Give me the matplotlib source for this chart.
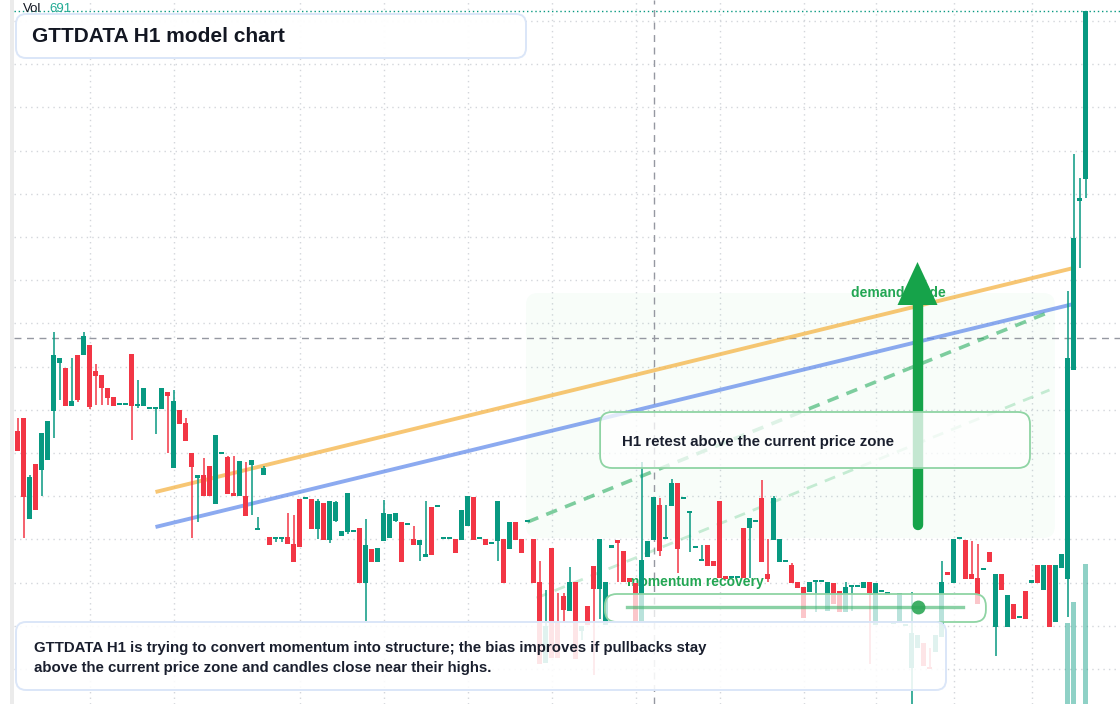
import matplotlib
matplotlib.use("Agg")
import matplotlib.pyplot as plt
from matplotlib.patches import FancyBboxPatch, Rectangle, Polygon
from matplotlib.transforms import Affine2D

W, H, DPI = 1120, 704, 100
plt.rcParams['font.family'] = ['Liberation Sans', 'DejaVu Sans']

# ---------------- data (hourly candles, price units) ----------------
opens = [273, 286, 185, 240, 234, 244, 293, 341, 336, 298,
         349, 349, 359, 333, 329, 316, 307, 299, 299, 350,
         298, 298, 295, 295, 295, 312, 236, 294, 281, 251,
         226, 229, 238, 200, 250, 247, 211, 208, 208, 239,
         174, 229, 167, 165, 165, 167, 160, 205, 205, 205,
         175, 201, 164, 183, 168, 172, 172, 176, 121, 155,
         142, 163, 166, 183, 182, 179, 165, 159, 147, 197,
         197, 165, 165, 165, 164, 178, 207, 165, 165, 160,
         163, 165, 155, 182, 165, 182, 165, 122, 41, 156,
         82, 108, 93, 122, 73, 98, 138, 115, 79, 156,
         164, 153, 126, 121, 82, 147, 164, 199, 165, 198,
         221, 205, 191, 156, 143, 159, 143, 203, 128, 126,
         126, 176, 176, 182, 206, 130, 164, 142, 142, 139,
         122, 117, 112, 122, 122, 93, 121, 113, 92, 117,
         117, 116, 122, 79, 112, 109, 80, 81, 78, 36,
         56, 61, 37, 52, 67, 132, 121, 165, 164, 130,
         126, 134, 152, 77, 130, 77, 100, 86, 113, 121,
         139, 114, 139, 82, 136, 125, 334, 503, 525]
highs = [286, 286, 229, 240, 271, 283, 372, 346, 336, 346,
         349, 372, 359, 340, 329, 316, 307, 299, 299, 350,
         324, 316, 295, 295, 316, 312, 314, 294, 286, 251,
         229, 246, 238, 269, 250, 248, 248, 243, 242, 244,
         187, 238, 167, 167, 167, 191, 189, 205, 205, 205,
         205, 201, 203, 203, 173, 211, 172, 176, 185, 155,
         156, 204, 190, 191, 182, 179, 178, 164, 203, 197,
         197, 165, 165, 165, 194, 208, 207, 165, 165, 160,
         203, 165, 182, 182, 165, 182, 165, 143, 114, 156,
         111, 111, 137, 122, 78, 98, 138, 165, 122, 159,
         164, 153, 126, 121, 242, 163, 207, 206, 199, 225,
         221, 205, 192, 158, 159, 159, 143, 203, 128, 126,
         126, 176, 186, 182, 224, 165, 208, 165, 142, 141,
         122, 117, 122, 122, 122, 122, 121, 113, 122, 117,
         117, 122, 122, 121, 112, 112, 80, 111, 78, 112,
         69, 61, 56, 69, 143, 132, 165, 165, 164, 163,
         160, 134, 152, 130, 130, 109, 100, 86, 113, 124,
         139, 139, 139, 139, 150, 413, 550, 526, 693]
lows = [253, 166, 185, 194, 208, 244, 266, 304, 298, 298,
        302, 349, 295, 299, 299, 299, 298, 299, 299, 264,
        296, 298, 295, 270, 295, 251, 236, 280, 263, 166,
        182, 208, 208, 200, 250, 210, 208, 208, 188, 189,
        174, 229, 159, 162, 162, 160, 142, 157, 205, 175,
        165, 164, 161, 182, 168, 170, 172, 121, 83, 142,
        142, 163, 166, 182, 142, 179, 159, 143, 147, 149,
        197, 165, 165, 151, 164, 178, 164, 165, 159, 160,
        143, 121, 155, 164, 151, 182, 121, 40, 41, 46,
        46, 82, 93, 45, 64, 79, 29, 85, 79, 156,
        122, 122, 122, 82, 82, 147, 164, 148, 165, 198,
        131, 205, 152, 156, 143, 138, 138, 126, 125, 126,
        126, 126, 126, 182, 142, 122, 164, 142, 142, 121,
        116, 86, 112, 92, 122, 93, 100, 92, 92, 93,
        117, 116, 40, 79, 112, 109, 80, 81, 78, -10,
        56, 38, 35, 52, 67, 129, 121, 165, 125, 125,
        100, 134, 142, 48, 114, 77, 85, 86, 85, 121,
        121, 114, 77, 82, 136, 87, 334, 436, 506]
closes = [253, 207, 227, 194, 271, 283, 349, 346, 298, 303,
          304, 368, 297, 328, 316, 306, 298, 299, 299, 298,
          300, 316, 295, 295, 316, 308, 303, 280, 263, 237,
          229, 208, 208, 269, 250, 210, 208, 243, 188, 244,
          174, 236, 159, 167, 167, 160, 142, 157, 205, 175,
          203, 164, 203, 202, 173, 211, 172, 121, 159, 142,
          156, 191, 190, 191, 142, 179, 159, 164, 150, 149,
          197, 165, 165, 151, 194, 208, 164, 165, 159, 160,
          203, 121, 182, 164, 151, 182, 121, 40, 78, 46,
          46, 94, 122, 45, 78, 79, 115, 165, 122, 159,
          161, 122, 122, 82, 144, 163, 207, 153, 165, 221,
          155, 205, 192, 158, 143, 138, 138, 126, 125, 126,
          126, 126, 186, 182, 142, 125, 206, 165, 142, 121,
          116, 86, 122, 122, 122, 122, 100, 92, 117, 117,
          117, 122, 111, 121, 112, 112, 80, 111, 78, 71,
          69, 38, 35, 69, 122, 129, 165, 165, 125, 125,
          100, 134, 142, 130, 114, 109, 85, 86, 85, 124,
          121, 139, 77, 139, 150, 346, 466, 506, 693]
vol_index = [175, 176, 177, 178]
volumes = [483, 557, 150, 691]

grid_bars = [12, 26, 47, 61, 75, 89, 103, 117, 131, 143, 156, 169]
grid_prices = [35 + 43.2 * k for k in range(16)]

# trend / guide lines: (start bar, start price, end bar, end price)
orange_line = (23, 212, 176, 436)
blue_line = (23, 177, 176, 400)
dash_strong = (85, 182, 172, 392)
dash_light = (86.5, 106, 172, 314)
zone = (84.75, 166, 172.9, 411)
crosshair_bar, crosshair_price = 106, 366
last_close = closes[-1]

UP, DOWN = '#089981', '#F23645'

# ---------------- figure ----------------
fig = plt.figure(figsize=(W / DPI, H / DPI), dpi=DPI)
fig.patch.set_facecolor('white')
ax = fig.add_axes([0, 0, 1, 1])
ax.set_xlim(-17.5 / 6, (W - 17.5) / 6)
ax.set_ylim(0, H)
ax.axis('off')
PX = Affine2D().scale(1.0 / DPI) + fig.dpi_scale_trans   # pixel transform (y from bottom)
x_left = (14 - 17.5) / 6

# left border band
ax.add_artist(Rectangle((10, 0), 4, H, transform=PX, color='#ebebeb', lw=0, zorder=0.3))

# grid
for g in grid_bars:
    ax.axvline(g, color='#d3d6db', lw=1.0, ls=(0, (1, 3)), zorder=0.5)
for gp in grid_prices:
    ax.plot([x_left, 200], [gp, gp], color='#d3d6db', lw=1.0, ls=(0, (1, 3)), zorder=0.5)

# demand zone shading
ax.add_patch(FancyBboxPatch((zone[0], zone[1]), zone[2] - zone[0], zone[3] - zone[1],
                            boxstyle='round,pad=0,rounding_size=2', mutation_aspect=6,
                            fc='#22c55e', alpha=0.03, ec='none', zorder=1))

# crosshair
ax.axvline(crosshair_bar, color='#9598a1', lw=1.0, ls=(0, (5, 4)), zorder=1.2)
ax.plot([x_left, 200], [crosshair_price, crosshair_price], color='#9598a1', lw=1.0,
        ls=(0, (5, 4)), zorder=1.2)
# last price line
ax.plot([x_left, 200], [last_close, last_close], color=UP, lw=1.0, ls=(0, (1, 2)), zorder=1.2)

# trend lines
ax.plot(orange_line[0::2], orange_line[1::2], color='#f5b445', alpha=0.75, lw=2.8,
        solid_capstyle='butt', zorder=2)
ax.plot(blue_line[0::2], blue_line[1::2], color='#5b86ea', alpha=0.7, lw=2.8,
        solid_capstyle='butt', zorder=2)
ax.plot(dash_strong[0::2], dash_strong[1::2], color='#2bae62', alpha=0.6, lw=2.6,
        ls=(0, (3.2, 2.4)), zorder=2.2)
ax.plot(dash_light[0::2], dash_light[1::2], color='#4cc27a', alpha=0.3, lw=2.0,
        ls=(0, (4, 3)), zorder=2.2)

# labels under candles
ax.text(101.6, 122, 'momentum recovery', color='#22a653', fontsize=10, fontweight='bold',
        va='center', ha='left', zorder=2.5)
ax.text(138.9, 411, 'demand guide', color='#22a653', fontsize=10, fontweight='bold',
        va='center', ha='left', zorder=3.2)

# candles
n = len(opens)
xs = list(range(n))
body_bottom, body_height, colors = [], [], []
for o, c in zip(opens, closes):
    body_bottom.append(min(o, c))
    body_height.append(max(abs(c - o), 1.6))
    colors.append(UP if c >= o else DOWN)
ax.vlines(xs, lows, highs, colors=colors, lw=1.1, zorder=3)
ax.bar(xs, body_height, bottom=body_bottom, width=0.85, color=colors, lw=0, zorder=3.05)

# big arrow
ax.plot([150, 150], [179, 400], color='#16a34a', lw=7.5, solid_capstyle='round', zorder=3.5)
ax.add_patch(Polygon([(146.67, 399), (153.33, 399), (150, 442)], closed=True,
                     fc='#16a34a', ec='none', zorder=3.5))

# H1 retest callout
ax.add_patch(FancyBboxPatch((97.1, 236), 71.65, 56, boxstyle='round,pad=0,rounding_size=2',
                            mutation_aspect=6, fc='white', alpha=0.75, ec='none', zorder=4))
ax.add_patch(FancyBboxPatch((97.1, 236), 71.65, 56, boxstyle='round,pad=0,rounding_size=2',
                            mutation_aspect=6, fc='none', ec='#8fd4a4', lw=1.3, zorder=4.1))
ax.text(100.75, 262, 'H1 retest above the current price zone', fontsize=10.85, fontweight='bold',
        color='#1a1f2e', va='center', ha='left', zorder=4.5)

# momentum box
ax.add_patch(FancyBboxPatch((97.9, 82), 63.5, 28, boxstyle='round,pad=0,rounding_size=2',
                            mutation_aspect=6, fc='white', alpha=0.72, ec='none', zorder=4))
ax.add_patch(FancyBboxPatch((97.9, 82), 63.5, 28, boxstyle='round,pad=0,rounding_size=2',
                            mutation_aspect=6, fc='none', ec='#8fd4a4', lw=1.3, zorder=4.1))
ax.plot([101.6, 157.6], [97, 97], color='#3cb36a', alpha=0.6, lw=2.4, zorder=4.2)
ax.plot([150], [97], 'o', ms=10, color='#2ba655', alpha=0.9, mec='none', zorder=4.3)

# volume (own scale, bars rise from below the visible area)
ax2 = ax.twinx()
ax2.set_ylim(197, 2680)
ax2.axis('off')
ax2.bar(vol_index, volumes, width=0.85, color=UP, alpha=0.45, lw=0)


def px_box(x0, y0, x1, y1, ec, alpha, z):
    ax.add_artist(FancyBboxPatch((x0, H - y1), x1 - x0, y1 - y0,
                                 boxstyle='round,pad=0,rounding_size=10', transform=PX,
                                 fc='white', alpha=alpha, ec='none', zorder=z))
    ax.add_artist(FancyBboxPatch((x0, H - y1), x1 - x0, y1 - y0,
                                 boxstyle='round,pad=0,rounding_size=10', transform=PX,
                                 fc='none', ec=ec, lw=1.4, zorder=z + 0.1))


# bottom commentary box
px_box(16, 622, 946, 690, '#dbe6f8', 0.88, 5)
ax.text(34, H - 648, 'GTTDATA H1 is trying to convert momentum into structure; the bias improves if pullbacks stay',
        transform=PX, fontsize=10.8, fontweight='bold', color='#1a1f2e', va='center', ha='left', zorder=5.5)
ax.text(34, H - 668, 'above the current price zone and candles close near their highs.',
        transform=PX, fontsize=10.8, fontweight='bold', color='#1a1f2e', va='center', ha='left', zorder=5.5)

# title box
px_box(16, 14, 526, 58, '#dbe6f8', 0.96, 5)
ax.text(32, H - 36, 'GTTDATA H1 model chart', transform=PX, fontsize=15, fontweight='bold',
        color='#131722', va='center', ha='left', zorder=5.5)

# volume legend
ax.text(23, H - 9, 'Vol', transform=PX, fontsize=9.5, color='#131722', va='center', ha='left', zorder=5.5)
ax.text(49, H - 9, f'{volumes[-1]}', transform=PX, fontsize=9.5, color='#22ab94', va='center',
        ha='left', zorder=5.5)

fig.savefig('out.png', dpi=DPI, facecolor='white')
